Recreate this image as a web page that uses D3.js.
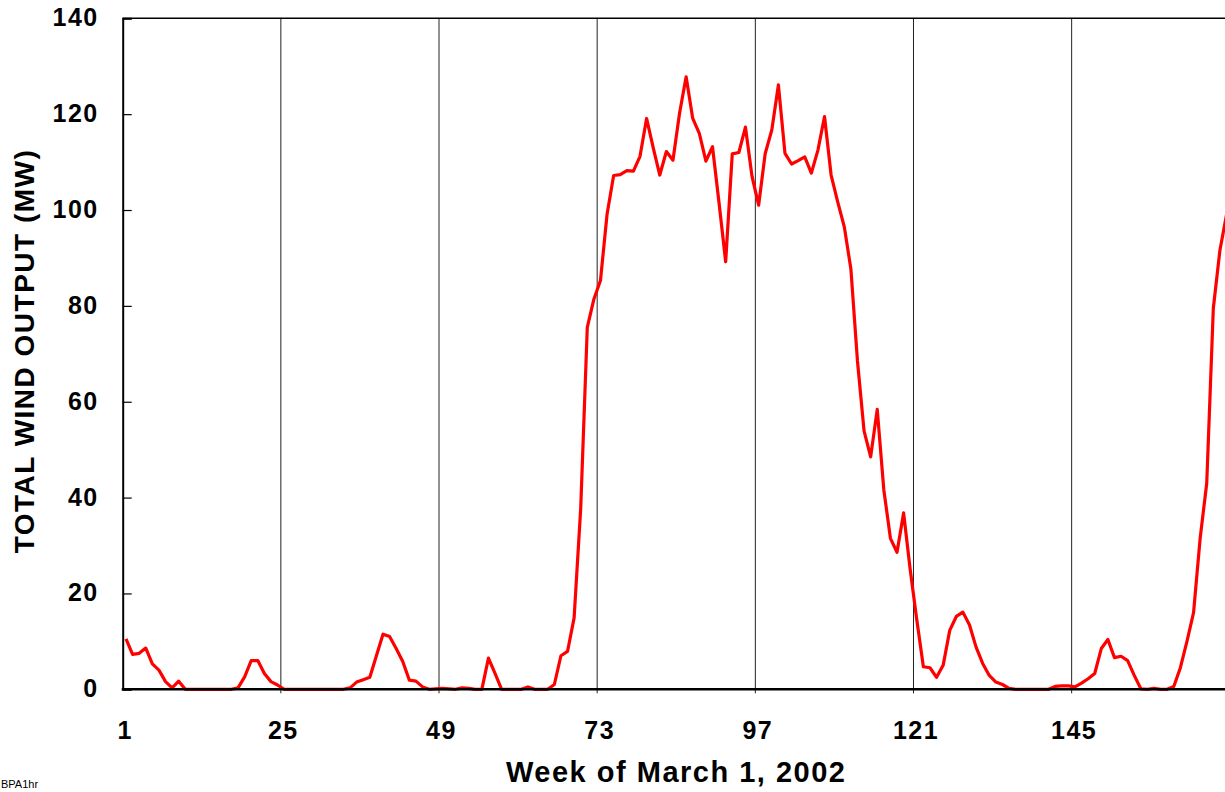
<!DOCTYPE html>
<html>
<head>
<meta charset="utf-8">
<script src="https://cdn.jsdelivr.net/npm/d3@7"></script>
<style>
  body { margin: 0; background: #fff; }
  svg { display: block; }
  text { font-family: Arial, "Liberation Sans", sans-serif; }
</style>
</head>
<body>
<svg id="chart" width="1225" height="792"></svg>
<script>
// hourly output, hours 1..168 of the week
const windOutput = [
  10.5, 7.3, 7.5, 8.6, 5.3, 4.0, 1.6, 0.3, 1.7, 0, 0, 0,
  0, 0, 0, 0, 0, 0.3, 2.6, 6.0, 6.0, 3.3, 1.6, 0.9,
  0, 0, 0, 0, 0, 0, 0, 0, 0, 0, 0.3, 1.5,
  2.0, 2.5, 7.0, 11.5, 11.0, 8.5, 5.8, 1.9, 1.7, 0.5, 0, 0.1,
  0.2, 0.1, 0, 0.3, 0.2, 0, 0, 6.5, 3.3, 0, 0, 0,
  0, 0.5, 0, 0, 0, 1.0, 7.0, 7.9, 14.9, 37.7, 75.5, 81.4,
  85.3, 99.1, 107.2, 107.4, 108.2, 108.1, 111.2, 119.1, 113.0, 107.3, 112.2, 110.4,
  120.2, 127.8, 119.1, 116.0, 110.2, 113.2, 101.4, 89.2, 111.7, 112.0, 117.3, 107.0,
  101.0, 111.8, 116.7, 126.1, 111.8, 109.6, 110.3, 111.1, 107.7, 112.5, 119.5, 107.3,
  101.7, 96.5, 87.7, 68.5, 53.9, 48.5, 58.4, 41.6, 31.5, 28.6, 36.8, 25.0,
  14.5, 4.7, 4.5, 2.5, 5.0, 12.3, 15.2, 16.1, 13.4, 8.8, 5.4, 2.9,
  1.5, 1.0, 0.2, 0, 0, 0, 0, 0, 0, 0.6, 0.7, 0.7,
  0.5, 1.3, 2.2, 3.3, 8.5, 10.4, 6.6, 6.9, 6.0, 2.9, 0.1, 0,
  0.2, 0, 0, 0.6, 4.5, 10.0, 16.0, 31.5, 43.0, 79.5, 91.6, 99.0
];
const hours = windOutput.map((v, i) => i + 1);
const xTickHours = [1, 25, 49, 73, 97, 121, 145];
const yTicks = [0, 20, 40, 60, 80, 100, 120, 140];

const data = hours.map((h, i) => ({ hour: h, value: windOutput[i] }));

const svg = d3.select("svg#chart");

// category axis: hour h sits in the middle of its slot
const x = d3.scaleLinear().domain([0, 168]).range([122.7, 1229.8]);
const y = d3.scaleLinear().domain([0, 140]).range([689.3, 18.3]);

const tickFont = { size: "25px", spacing: "1.5px" };

// vertical gridlines
svg.append("g")
  .selectAll("line")
  .data(xTickHours.slice(1))
  .join("line")
  .attr("x1", d => x(d - 1)).attr("x2", d => x(d - 1))
  .attr("y1", y(140)).attr("y2", y(0) + 4)
  .attr("stroke", "#222")
  .attr("stroke-width", 1);

// the series
const line = d3.line()
  .x(d => x(d.hour - 0.5))
  .y(d => y(d.value));

svg.append("path")
  .datum(data)
  .attr("d", line)
  .attr("fill", "none")
  .attr("stroke", "#ff0000")
  .attr("stroke-width", 3.2)
  .attr("stroke-linejoin", "round");

// top border
svg.append("line")
  .attr("x1", x(0)).attr("x2", 1225)
  .attr("y1", y(140)).attr("y2", y(140))
  .attr("stroke", "#000").attr("stroke-width", 1.5);

// y axis, ticks pointing inward
const yAxis = svg.append("g")
  .attr("transform", `translate(${x(0)},0)`)
  .call(d3.axisLeft(y).tickValues(yTicks).tickSize(-9).tickPadding(24));
yAxis.select(".domain").attr("stroke", "#000").attr("stroke-width", 2);
yAxis.selectAll(".tick line").attr("stroke", "#000").attr("stroke-width", 1.2);
yAxis.selectAll(".tick text")
  .attr("fill", "#000")
  .attr("dy", "0.3em")
  .style("font-size", tickFont.size)
  .style("font-weight", "bold")
  .style("letter-spacing", tickFont.spacing);

// x axis line
svg.append("line")
  .attr("x1", x(0) - 1).attr("x2", 1225)
  .attr("y1", y(0)).attr("y2", y(0))
  .attr("stroke", "#000").attr("stroke-width", 2.5);

// x tick labels
svg.append("g")
  .selectAll("text")
  .data(xTickHours)
  .join("text")
  .attr("x", d => x(d - 1) + 2.5)
  .attr("y", 739)
  .attr("text-anchor", "middle")
  .style("font-size", tickFont.size)
  .style("font-weight", "bold")
  .style("letter-spacing", tickFont.spacing)
  .text(d => d);

// axis titles
svg.append("text")
  .attr("x", (x(0) + x(168)) / 2)
  .attr("y", 782)
  .attr("text-anchor", "middle")
  .style("font-size", "29px")
  .style("font-weight", "bold")
  .style("letter-spacing", "1.5px")
  .text("Week of March 1, 2002");

svg.append("text")
  .attr("transform", "translate(34,351) rotate(-90)")
  .attr("text-anchor", "middle")
  .style("font-size", "28px")
  .style("font-weight", "bold")
  .style("letter-spacing", "1.5px")
  .text("TOTAL WIND OUTPUT (MW)");

svg.append("text")
  .attr("x", 1)
  .attr("y", 788)
  .style("font-size", "11px")
  .text("BPA1hr");
</script>
</body>
</html>
